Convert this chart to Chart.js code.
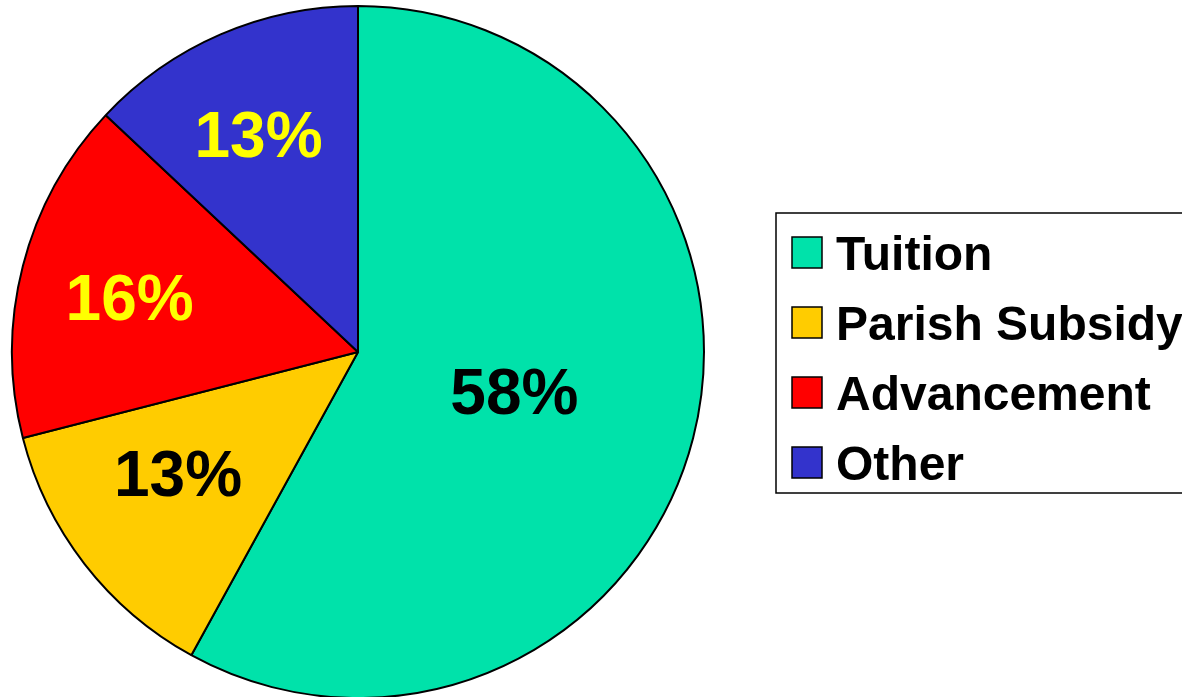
<!DOCTYPE html>
<html>
<head>
<meta charset="utf-8">
<script src="https://cdn.jsdelivr.net/npm/chart.js@4/dist/chart.umd.min.js"></script>
<style>
  html, body { margin: 0; padding: 0; background: #fff; overflow: hidden; }
  #wrap { position: relative; width: 1182px; height: 697px; }
</style>
</head>
<body>
<div id="wrap"><canvas id="chart" width="1182" height="697"></canvas></div>
<script>
const categories = ["Tuition", "Parish Subsidy", "Advancement", "Other"];
const shares = [58, 13, 16, 13];
const sliceColors = ["#00E2AA", "#FFCC00", "#FF0000", "#3333CC"];
const labelColors = ["#000000", "#000000", "#FFFF00", "#FFFF00"];

// where each percent label sits: [fraction of radius, angle shift in degrees]
const labelPlacement = [[0.468, 0.6], [0.632, 3.2], [0.677, -1.6], [0.683, -1.5]];

const pctLabels = {
  id: "pctLabels",
  afterDatasetsDraw(chart) {
    const ctx = chart.ctx;
    const meta = chart.getDatasetMeta(0);
    ctx.save();
    ctx.font = "bold 64px 'Liberation Sans', Arial, sans-serif";
    ctx.textAlign = "center";
    ctx.textBaseline = "middle";
    meta.data.forEach((arc, i) => {
      const p = arc.getProps(["x", "y", "startAngle", "endAngle", "outerRadius"], true);
      const [frac, shift] = labelPlacement[i];
      const mid = (p.startAngle + p.endAngle) / 2 + (shift * Math.PI) / 180;
      const r = p.outerRadius * frac;
      ctx.fillStyle = labelColors[i];
      ctx.fillText(`${shares[i]}%`, p.x + Math.cos(mid) * r, p.y + Math.sin(mid) * r + 2);
    });
    ctx.restore();
  },
};

const boxLegend = {
  id: "boxLegend",
  afterDraw(chart) {
    const ctx = chart.ctx;
    const left = 776, top = 213, pitch = 70;
    ctx.save();
    ctx.lineWidth = 1.5;
    ctx.strokeStyle = "#000";
    ctx.strokeRect(left, top, 430, 280);
    ctx.font = "bold 48px 'Liberation Sans', Arial, sans-serif";
    ctx.textBaseline = "alphabetic";
    ctx.textAlign = "left";
    categories.forEach((name, i) => {
      const y = top + 24 + i * pitch;
      ctx.fillStyle = sliceColors[i];
      ctx.fillRect(792, y, 30, 31);
      ctx.lineWidth = 1.5;
      ctx.strokeRect(792, y, 30, 31);
      ctx.fillStyle = "#000";
      ctx.fillText(name, 836, y + 33);
    });
    ctx.restore();
  },
};

new Chart(document.getElementById("chart"), {
  type: "pie",
  data: {
    labels: categories,
    datasets: [{
      data: shares,
      backgroundColor: sliceColors,
      borderColor: "#000",
      borderWidth: 2,
      radius: 346,
    }],
  },
  options: {
    responsive: false,
    animation: false,
    layout: { padding: { left: 0, right: 466, top: 7, bottom: 0 } },
    plugins: {
      legend: { display: false },
      tooltip: { enabled: false },
    },
  },
  plugins: [pctLabels, boxLegend],
});
</script>
</body>
</html>
